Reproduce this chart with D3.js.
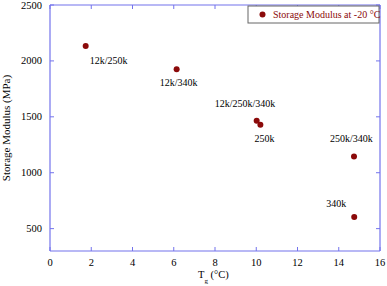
<!DOCTYPE html>
<html>
<head>
<meta charset="utf-8">
<script src="https://cdn.jsdelivr.net/npm/d3@7"></script>
<style>
  body { margin: 0; background: #fff; }
</style>
</head>
<body>
<svg id="chart" width="387" height="286" font-family="'Liberation Serif', 'DejaVu Serif', serif"></svg>
<script>
// values
const tg = [1.73, 6.14, 10.02, 10.2, 14.74, 14.75];
const modulus = [2134, 1926, 1464, 1429, 1146, 604];
const labels = ["12k/250k", "12k/340k", "12k/250k/340k", "250k", "250k/340k", "340k"];
// label offsets from its point [dx, dy]
const labelOff = [[4, 18], [-17, 17], [-42, -14], [-6, 17], [-24, -14], [-28, -10]];
const xTicks = [0, 2, 4, 6, 8, 10, 12, 14, 16];
const yTicks = [500, 1000, 1500, 2000, 2500];

const axisColor = "#7373ec";
const dotColor = "#8b0a0a";

const svg = d3.select("#chart");
const m = {left: 50, right: 380, top: 5, bottom: 251};

const x = d3.scaleLinear().domain([0, 16]).range([m.left, m.right]);
const y = d3.scaleLinear().domain([300, 2500]).range([m.bottom, m.top]);

// frame
const g = svg.append("g");
g.append("line").attr("x1", m.left).attr("x2", m.right).attr("y1", m.bottom).attr("y2", m.bottom);
g.append("line").attr("x1", m.left).attr("x2", m.right).attr("y1", m.top).attr("y2", m.top);
g.append("line").attr("x1", m.left).attr("x2", m.left).attr("y1", m.top).attr("y2", m.bottom);
g.append("line").attr("x1", m.right).attr("x2", m.right).attr("y1", m.top).attr("y2", m.bottom);
g.selectAll("line").attr("stroke", axisColor).attr("stroke-width", 1.2);

// ticks inward on all sides
xTicks.forEach(t => {
  g.append("line").attr("x1", x(t)).attr("x2", x(t)).attr("y1", m.bottom).attr("y2", m.bottom - 4)
    .attr("stroke", axisColor);
  g.append("line").attr("x1", x(t)).attr("x2", x(t)).attr("y1", m.top).attr("y2", m.top + 4)
    .attr("stroke", axisColor);
  svg.append("text").attr("x", x(t)).attr("y", 265.5).attr("text-anchor", "middle")
    .attr("font-size", 10.5).text(t);
});
yTicks.forEach(t => {
  g.append("line").attr("x1", m.left).attr("x2", m.left + 4).attr("y1", y(t)).attr("y2", y(t))
    .attr("stroke", axisColor);
  g.append("line").attr("x1", m.right).attr("x2", m.right - 4).attr("y1", y(t)).attr("y2", y(t))
    .attr("stroke", axisColor);
  svg.append("text").attr("x", 42).attr("y", y(t) + 3.5).attr("text-anchor", "end")
    .attr("font-size", 10.5).text(t);
});

// axis titles
svg.append("text").attr("transform", `translate(10,${(m.top + m.bottom) / 2}) rotate(-90)`)
  .attr("text-anchor", "middle").attr("font-size", 11).text("Storage Modulus (MPa)");
const xt = svg.append("text").attr("x", 198).attr("y", 277.5).attr("font-size", 10.5);
xt.append("tspan").text("T");
xt.append("tspan").attr("dy", 5).attr("font-size", 7).text("g");
xt.append("tspan").attr("dy", -5).text(" (°C)");

// points
svg.selectAll("circle.pt").data(tg).join("circle").attr("class", "pt")
  .attr("cx", d => x(d)).attr("cy", (d, i) => y(modulus[i])).attr("r", 3)
  .attr("fill", dotColor);

svg.selectAll("text.lab").data(labels).join("text").attr("class", "lab")
  .attr("x", (d, i) => x(tg[i]) + labelOff[i][0])
  .attr("y", (d, i) => y(modulus[i]) + labelOff[i][1])
  .attr("font-size", 10).text(d => d);

// legend
const leg = svg.append("g");
leg.append("rect").attr("x", 248).attr("y", 6).attr("width", 131).attr("height", 17)
  .attr("fill", "#fff").attr("stroke", "#666").attr("stroke-width", 1);
leg.append("circle").attr("cx", 262.5).attr("cy", 14.5).attr("r", 3).attr("fill", dotColor);
leg.append("text").attr("x", 273).attr("y", 18).attr("font-size", 10).attr("fill", dotColor)
  .text("Storage Modulus at -20 °C");
</script>
</body>
</html>
